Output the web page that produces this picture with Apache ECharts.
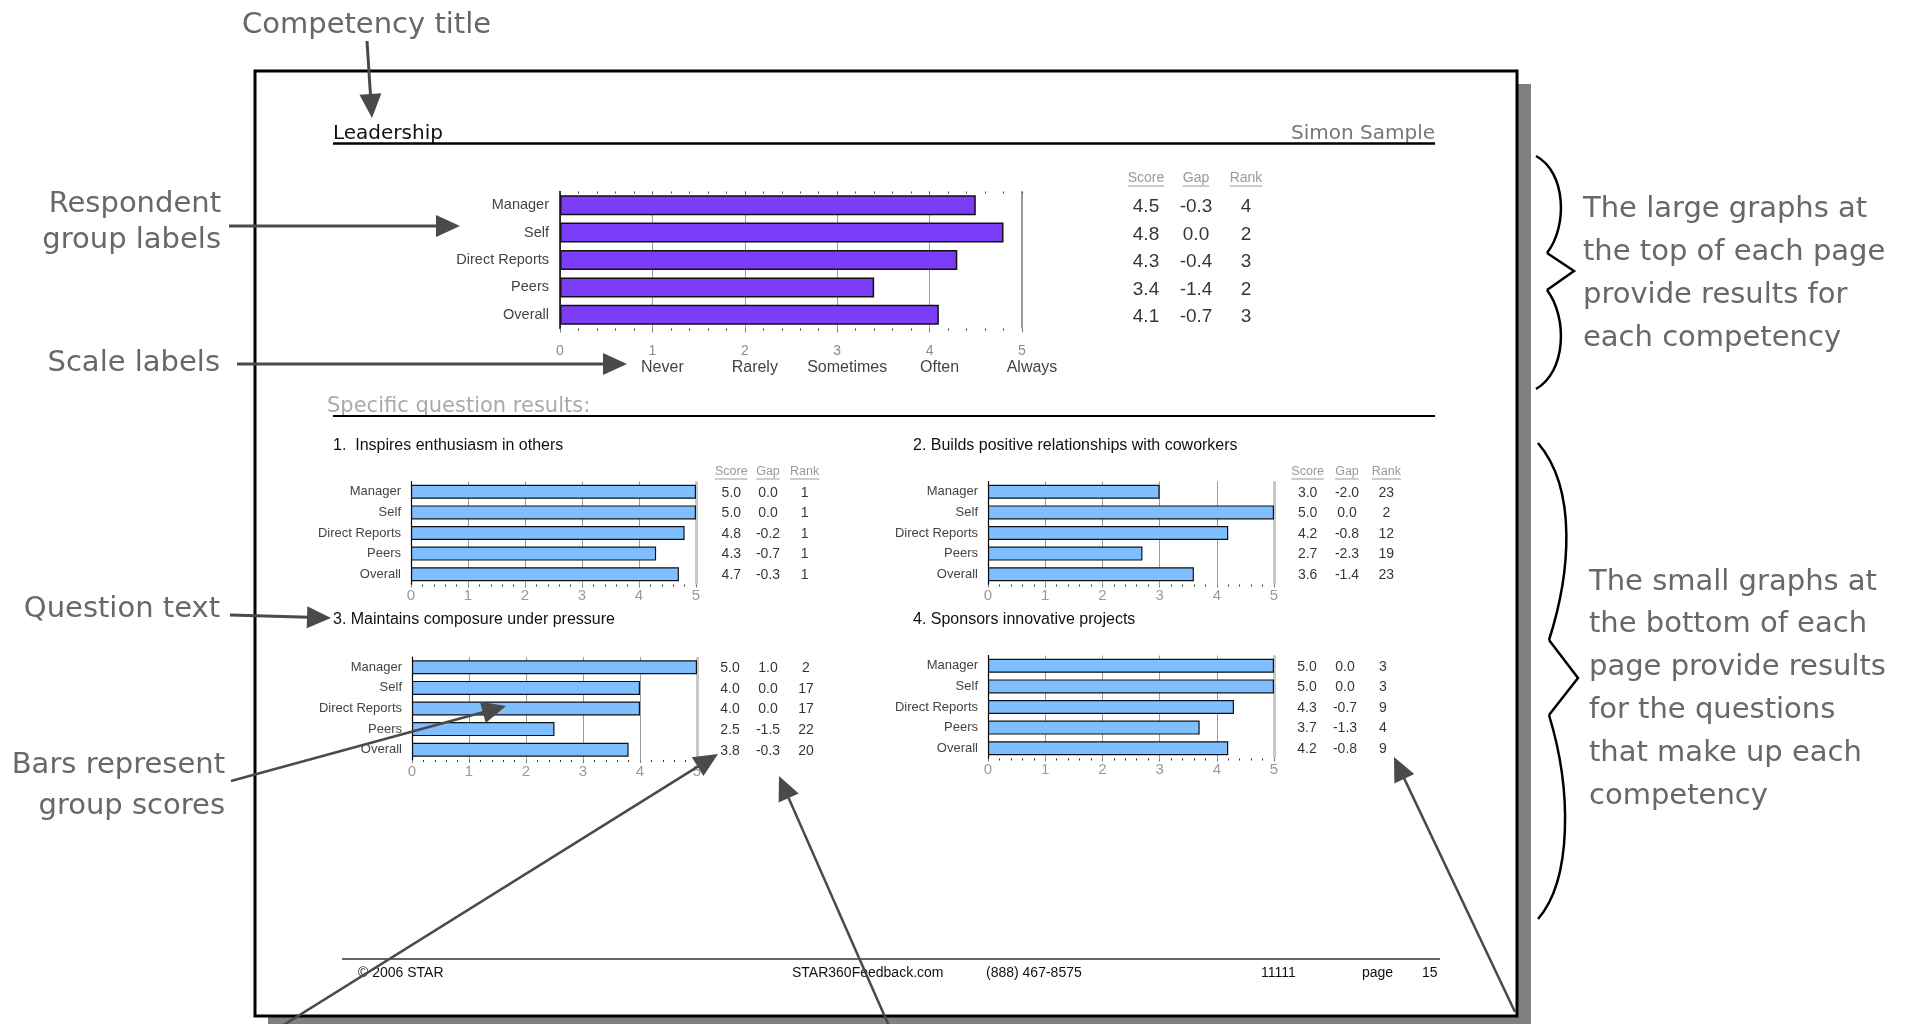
<!DOCTYPE html>
<html>
<head>
<meta charset="utf-8">
<title>Leadership – 360 feedback page guide</title>
<script src="https://cdn.jsdelivr.net/npm/echarts@6/dist/echarts.min.js"></script>
<style>
  html, body { margin: 0; padding: 0; background: #ffffff; }
  #chart { width: 1908px; height: 1024px; }
</style>
</head>
<body>
<div id="chart"></div>
<script>
// ---- report data -------------------------------------------------------
const groups = ['Manager', 'Self', 'Direct Reports', 'Peers', 'Overall'];
const scaleTicks = ['0', '1', '2', '3', '4', '5'];
const scaleWords = ['', 'Never', 'Rarely', 'Sometimes', 'Often', 'Always'];
const columns = ['Score', 'Gap', 'Rank'];

const competencyTitle = 'Leadership';
const participantName = 'Simon Sample';
const competencyScores = [4.5, 4.8, 4.3, 3.4, 4.1];
const competencyGaps = [-0.3, 0.0, -0.4, -1.4, -0.7];
const competencyRanks = [4, 2, 3, 2, 3];

const questionTitles = [
  '1.  Inspires enthusiasm in others',
  '2. Builds positive relationships with coworkers',
  '3. Maintains composure under pressure',
  '4. Sponsors innovative projects'
];
const q1Scores = [5.0, 5.0, 4.8, 4.3, 4.7];
const q1Gaps = [0.0, 0.0, -0.2, -0.7, -0.3];
const q1Ranks = [1, 1, 1, 1, 1];
const q2Scores = [3.0, 5.0, 4.2, 2.7, 3.6];
const q2Gaps = [-2.0, 0.0, -0.8, -2.3, -1.4];
const q2Ranks = [23, 2, 12, 19, 23];
const q3Scores = [5.0, 4.0, 4.0, 2.5, 3.8];
const q3Gaps = [1.0, 0.0, 0.0, -1.5, -0.3];
const q3Ranks = [2, 17, 17, 22, 20];
const q4Scores = [5.0, 5.0, 4.3, 3.7, 4.2];
const q4Gaps = [0.0, 0.0, -0.7, -1.3, -0.8];
const q4Ranks = [3, 3, 9, 4, 9];

const footerItems = ['\u00A9 2006 STAR', 'STAR360Feedback.com', '(888) 467-8575', '11111', 'page', '15'];

const notesLeft = [['Respondent', 'group labels'], ['Scale labels'], ['Question text'], ['Bars represent', 'group scores']];
const noteTop = 'Competency title';
const noteLarge = ['The large graphs at', 'the top of each page', 'provide results for', 'each competency'];
const noteSmall = ['The small graphs at', 'the bottom of each', 'page provide results', 'for the questions', 'that make up each', 'competency'];

// ---- layout ------------------------------------------------------------
const FONT = '"Liberation Sans", Arial, sans-serif';
const NOTE_FONT = '"DejaVu Sans", sans-serif';
const NOTE_COLOR = '#686868';
const ARROW_COLOR = '#4a4a4a';

const panels = [
  { scores: competencyScores, gaps: competencyGaps, ranks: competencyRanks, big: true, header: true,
    plot: { left: 560, top: 191.5, width: 462, height: 137 }, table: { left: 1121, width: 150 } },
  { scores: q1Scores, gaps: q1Gaps, ranks: q1Ranks, header: true,
    plot: { left: 411, top: 481.5, width: 285, height: 103 }, table: { left: 713, width: 110 } },
  { scores: q2Scores, gaps: q2Gaps, ranks: q2Ranks, header: true,
    plot: { left: 988, top: 481.5, width: 286, height: 103 }, table: { left: 1288, width: 118 } },
  { scores: q3Scores, gaps: q3Gaps, ranks: q3Ranks,
    plot: { left: 412, top: 657, width: 285, height: 103 }, table: { left: 711, width: 114 } },
  { scores: q4Scores, gaps: q4Gaps, ranks: q4Ranks,
    plot: { left: 988, top: 655.5, width: 286, height: 103 }, table: { left: 1288, width: 114 } }
];

// ---- build grids, axes and series --------------------------------------
const grids = [], xAxes = [], yAxes = [], series = [], headerAxes = [];

panels.forEach((p) => {
  const big = !!p.big;
  const gi = grids.length;
  grids.push({ left: p.plot.left, top: p.plot.top, width: p.plot.width, height: p.plot.height });

  const xi = xAxes.length;
  xAxes.push({
    type: 'value', gridIndex: gi, min: 0, max: 5, interval: 1, position: 'bottom',
    axisLine: { show: false },
    axisTick: { show: true, length: big ? 4 : 3, lineStyle: { color: '#777' } },
    minorTick: { show: true, splitNumber: 5, length: 2, lineStyle: { color: '#333' } },
    splitLine: { show: true, lineStyle: { color: '#9a9a9a', width: 1 } },
    axisLabel: big ? {
      margin: 15,
      formatter: (v) => v === 0 ? '{n|' + scaleTicks[0] + '}' : '{n|' + scaleTicks[v] + '}\n{w|' + scaleWords[v] + '}',
      rich: {
        n: { fontSize: 14, color: '#8c8c8c', lineHeight: 16, fontFamily: FONT },
        w: { fontSize: 16, color: '#444', lineHeight: 17, fontFamily: FONT, padding: [0, 0, 0, 20] }
      }
    } : { margin: 4, fontSize: 15, color: '#9a9a9a', fontFamily: FONT, formatter: (v) => scaleTicks[v] }
  });
  // top edge: dotted ticks on the large chart, and the heavier line at the top of the scale
  xAxes.push({
    type: 'value', gridIndex: gi, min: 0, max: 5, interval: 1, position: 'top',
    axisLine: { show: false },
    axisTick: { show: big, length: 2, inside: true, lineStyle: { color: '#444' } },
    minorTick: { show: big, splitNumber: 5, length: 2, lineStyle: { color: '#444' } },
    axisLabel: { show: false },
    splitLine: { show: true, lineStyle: {
      color: ['rgba(0,0,0,0)', 'rgba(0,0,0,0)', 'rgba(0,0,0,0)', 'rgba(0,0,0,0)', 'rgba(0,0,0,0)', big ? '#9a9a9a' : '#c8c8c8'],
      width: big ? 2 : 3 } }
  });

  const yi = yAxes.length;
  yAxes.push({
    type: 'category', gridIndex: gi, data: groups, inverse: true,
    axisLine: { show: true, lineStyle: { color: '#000', width: big ? 1.5 : 1.2 } },
    axisTick: { show: false },
    splitLine: { show: false },
    axisLabel: { margin: big ? 11 : 10, fontSize: big ? 14.5 : 13, color: '#444', fontFamily: FONT }
  });

  series.push({
    type: 'bar', xAxisIndex: xi, yAxisIndex: yi, data: p.scores,
    barWidth: big ? 20 : 14, silent: true,
    itemStyle: { color: big ? '#7b3cf8' : '#80bfff', borderColor: '#111', borderWidth: big ? 1.5 : 1.2 }
  });

  // Score / Gap / Rank table, laid out on its own category grid
  const tgi = grids.length;
  grids.push({ left: p.table.left, top: p.plot.top, width: p.table.width, height: p.plot.height });
  const txi = xAxes.length;
  const headSize = big ? 14 : 12.5;
  const headMargin = big ? 6 : 3;
  xAxes.push({
    type: 'category', gridIndex: tgi, data: columns, position: 'top',
    axisLine: { show: false }, axisTick: { show: false }, splitLine: { show: false },
    axisLabel: { show: !!p.header, interval: 0, margin: headMargin, fontSize: headSize, color: '#999', fontFamily: FONT }
  });
  if (p.header) headerAxes.push({ axis: txi, top: p.plot.top, margin: headMargin, size: headSize });
  const tyi = yAxes.length;
  yAxes.push({ type: 'category', gridIndex: tgi, data: groups, inverse: true, show: false });

  const cells = [p.scores.map(v => v.toFixed(1)), p.gaps.map(v => v.toFixed(1)), p.ranks.map(String)];
  columns.forEach((c, k) => {
    series.push({
      type: 'scatter', xAxisIndex: txi, yAxisIndex: tyi, silent: true,
      symbol: 'circle', symbolSize: 1, itemStyle: { color: 'rgba(0,0,0,0)' },
      data: groups.map(g => [c, g]),
      label: { show: true, position: 'inside', formatter: (prm) => cells[k][prm.dataIndex],
               fontSize: big ? 19 : 14, color: '#000', fontFamily: FONT, offset: [0, big ? 2 : 1] }
    });
  });
});

// ---- page furniture and callouts ---------------------------------------
function txt(text, x, y, font, fill, align, z) {
  return { type: 'text', x: x, y: y, z: z || 5, silent: true,
    style: { text: text, font: font, fill: fill, align: align || 'left', textAlign: align || 'left',
             verticalAlign: 'middle', textVerticalAlign: 'middle' } };
}
function line(x1, y1, x2, y2, stroke, w, z) {
  return { type: 'line', z: z || 5, silent: true, shape: { x1, y1, x2, y2 }, style: { stroke: stroke, lineWidth: w } };
}
function arrow(x1, y1, x2, y2, w) {
  const L = 24, H = 11;
  const dx = x2 - x1, dy = y2 - y1, len = Math.hypot(dx, dy);
  const ux = dx / len, uy = dy / len;
  const bx = x2 - ux * L, by = y2 - uy * L;
  return [
    line(x1, y1, bx + ux * 2, by + uy * 2, ARROW_COLOR, w || 3, 60),
    { type: 'polygon', z: 60, silent: true,
      shape: { points: [[x2, y2], [bx - uy * H, by + ux * H], [bx + uy * H, by - ux * H]] },
      style: { fill: ARROW_COLOR } }
  ];
}
function bez(x1, y1, cx1, cy1, cx2, cy2, x2, y2) {
  return { type: 'bezierCurve', z: 60, silent: true,
    shape: { x1, y1, cpx1: cx1, cpy1: cy1, cpx2: cx2, cpy2: cy2, x2, y2 },
    style: { stroke: '#000', lineWidth: 2.5, fill: null } };
}
function zig(points) {
  return { type: 'polyline', z: 60, silent: true, shape: { points: points }, style: { stroke: '#000', lineWidth: 2.5, fill: null } };
}

const titleFont = '20px "DejaVu Sans", sans-serif';
const noteFont = '29px ' + NOTE_FONT;
const qFont = '16px ' + FONT;

const elements = [
  // page, drop shadow and frame
  { type: 'rect', z: -3, silent: true, shape: { x: 268, y: 84, width: 1263, height: 960 }, style: { fill: '#808080' } },
  { type: 'rect', z: -2, silent: true, shape: { x: 255, y: 71, width: 1262, height: 945 }, style: { fill: '#ffffff', stroke: '#000', lineWidth: 3 } },
  // page header
  txt(competencyTitle, 333, 133.5, titleFont, '#111'),
  txt(participantName, 1435, 133.5, titleFont, '#777', 'right'),
  line(333, 143.5, 1435, 143.5, '#000', 2.5),
  txt('Specific question results:', 327, 406.5, '21px ' + NOTE_FONT, '#aaaaaa'),
  line(333, 416, 1435, 416, '#000', 2),
  // question headings
  txt(questionTitles[0], 333, 446, qFont, '#111'),
  txt(questionTitles[1], 913, 446, qFont, '#111'),
  txt(questionTitles[2], 333, 620, qFont, '#111'),
  txt(questionTitles[3], 913, 620, qFont, '#111'),
  // footer
  line(342, 959, 1440, 959, '#333', 1.5),
  txt(footerItems[0], 358, 973, '14px ' + FONT, '#111'),
  txt(footerItems[1], 792, 973, '14px ' + FONT, '#111'),
  txt(footerItems[2], 986, 973, '14px ' + FONT, '#111'),
  txt(footerItems[3], 1261, 973, '14px ' + FONT, '#111'),
  txt(footerItems[4], 1362, 973, '14px ' + FONT, '#111'),
  txt(footerItems[5], 1422, 973, '14px ' + FONT, '#111'),

  // callout labels on the left and top
  txt(noteTop, 242, 25.5, noteFont, NOTE_COLOR, 'left', 60),
  txt(notesLeft[0][0], 221, 204, noteFont, NOTE_COLOR, 'right', 60),
  txt(notesLeft[0][1], 221, 240, noteFont, NOTE_COLOR, 'right', 60),
  txt(notesLeft[1][0], 220, 363, noteFont, NOTE_COLOR, 'right', 60),
  txt(notesLeft[2][0], 220, 609, noteFont, NOTE_COLOR, 'right', 60),
  txt(notesLeft[3][0], 225, 765, noteFont, NOTE_COLOR, 'right', 60),
  txt(notesLeft[3][1], 225, 806, noteFont, NOTE_COLOR, 'right', 60),

  ...arrow(367, 41, 372, 118, 3),
  ...arrow(229, 226, 460, 226, 3),
  ...arrow(237, 364, 627, 364, 3),
  ...arrow(230, 615, 331, 618, 3),
  ...arrow(231, 781, 506, 706, 2.5),
  ...arrow(282, 1026, 718, 754, 2.5),
  ...arrow(889, 1026, 779, 776, 2.5),
  ...arrow(1515, 1012, 1394, 757, 2.5),

  // braces and explanations on the right
  bez(1536, 156, 1566, 172, 1568, 226, 1547, 253),
  zig([[1547, 253], [1574, 271], [1547, 290]]),
  bez(1547, 290, 1568, 318, 1566, 372, 1536, 389),
  bez(1538, 443, 1578, 490, 1570, 575, 1549, 640),
  zig([[1549, 640], [1578, 678], [1549, 715]]),
  bez(1549, 715, 1572, 790, 1572, 880, 1538, 919)
];
noteLarge.forEach((s, i) => elements.push(txt(s, 1583, 209 + i * 43, noteFont, NOTE_COLOR, 'left', 60)));
noteSmall.forEach((s, i) => elements.push(txt(s, 1589, 582 + i * 42.8, noteFont, NOTE_COLOR, 'left', 60)));

const chart = echarts.init(document.getElementById('chart'), null, { renderer: 'canvas' });
chart.setOption({
  animation: false,
  grid: grids,
  xAxis: xAxes,
  yAxis: yAxes,
  series: series,
  graphic: { elements: elements }
});

// underline the Score / Gap / Rank column headings
const ctx = document.createElement('canvas').getContext('2d');
const underlines = [];
headerAxes.forEach((h) => {
  ctx.font = h.size + 'px ' + FONT;
  columns.forEach((c) => {
    const cx = chart.convertToPixel({ xAxisIndex: h.axis }, c);
    const w = ctx.measureText(c).width;
    const y = h.top - h.margin + 0.5;
    underlines.push(line(cx - w / 2, y, cx + w / 2, y, '#999', 1, 6));
  });
});
chart.setOption({ graphic: { elements: elements.concat(underlines) } });
</script>
</body>
</html>
